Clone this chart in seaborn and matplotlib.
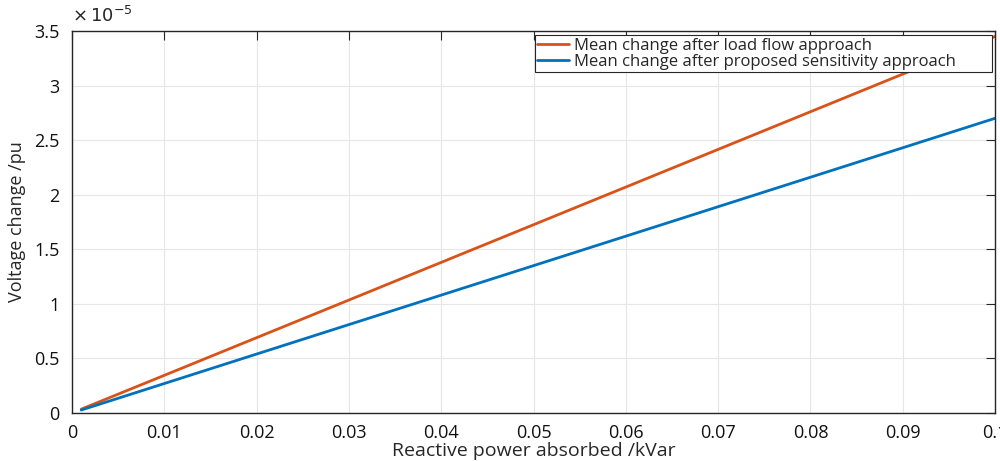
import numpy as np
import pandas as pd
import matplotlib
matplotlib.use('Agg')
import matplotlib.pyplot as plt
import seaborn as sns
from matplotlib.ticker import FuncFormatter, MultipleLocator

# data (voltage change in units of 1e-5 pu)
reactive_power = [0.001, 0.01, 0.02, 0.03, 0.04, 0.05, 0.06, 0.07, 0.08, 0.09, 0.1]
change_load_flow = [0.035, 0.345, 0.69, 1.035, 1.38, 1.725, 2.07, 2.415, 2.76, 3.105, 3.45]
change_sensitivity = [0.027, 0.27, 0.54, 0.81, 1.08, 1.35, 1.62, 1.89, 2.16, 2.43, 2.70]
series_names = ['Mean change after load flow approach',
                'Mean change after proposed sensitivity approach']

df = pd.DataFrame({
    'q': reactive_power * 2,
    'dv': change_load_flow + change_sensitivity,
    'series': [series_names[0]] * len(reactive_power) + [series_names[1]] * len(reactive_power),
})

sns.set_style('whitegrid')
plt.rcParams['font.family'] = ['Open Sans', 'DejaVu Sans']

fig = plt.figure(figsize=(10, 4.61), dpi=100)
ax = fig.add_axes([0.072, 1 - 413 / 461, 0.995 - 0.072, (413 - 31) / 461])

sns.lineplot(data=df, x='q', y='dv', hue='series',
             palette=['#D95319', '#0072BD'], linewidth=2, ax=ax)

ax.set_xlim(0, 0.1)
ax.set_ylim(0, 3.5)
ax.xaxis.set_major_locator(MultipleLocator(0.01))
ax.yaxis.set_major_locator(MultipleLocator(0.5))
ax.xaxis.set_major_formatter(FuncFormatter(lambda v, p: '%g' % round(v, 4)))
ax.yaxis.set_major_formatter(FuncFormatter(lambda v, p: '%g' % round(v, 4)))

ax.grid(True, color='#e6e6e6', linewidth=0.8)
for s in ax.spines.values():
    s.set_color('#262626')
    s.set_linewidth(1)
    s.set_visible(True)
ax.tick_params(direction='in', length=6.5, width=0.8, color='#262626',
               top=True, right=True, labelsize=13, labelcolor='#111111')
ax.tick_params(axis='x', pad=8)
ax.tick_params(axis='y', pad=9)

ax.set_xlabel('Reactive power absorbed /kVar', fontsize=14, labelpad=0, color='#262626')
ax.set_ylabel('Voltage change /pu', fontsize=13, labelpad=6, color='#262626')
ax.text(0.0, 1.012, r'$\times\,10^{-5}$', transform=ax.transAxes,
        fontsize=13, ha='left', va='bottom', color='#262626')

# legend box spans roughly x 535..992, y 35..68 px
leg = ax.legend(loc='upper left', bbox_to_anchor=(0.5016, 0.903, 0.4951, 0.0865),
                mode='expand', fontsize=12, frameon=True, fancybox=False,
                edgecolor='#262626', handlelength=1.9, handletextpad=0.3,
                borderpad=0.15, labelspacing=0.0, borderaxespad=0)
leg.get_frame().set_linewidth(0.8)
leg.get_frame().set_alpha(1)
leg.set_title(None)

fig.savefig('out.png', dpi=100)
